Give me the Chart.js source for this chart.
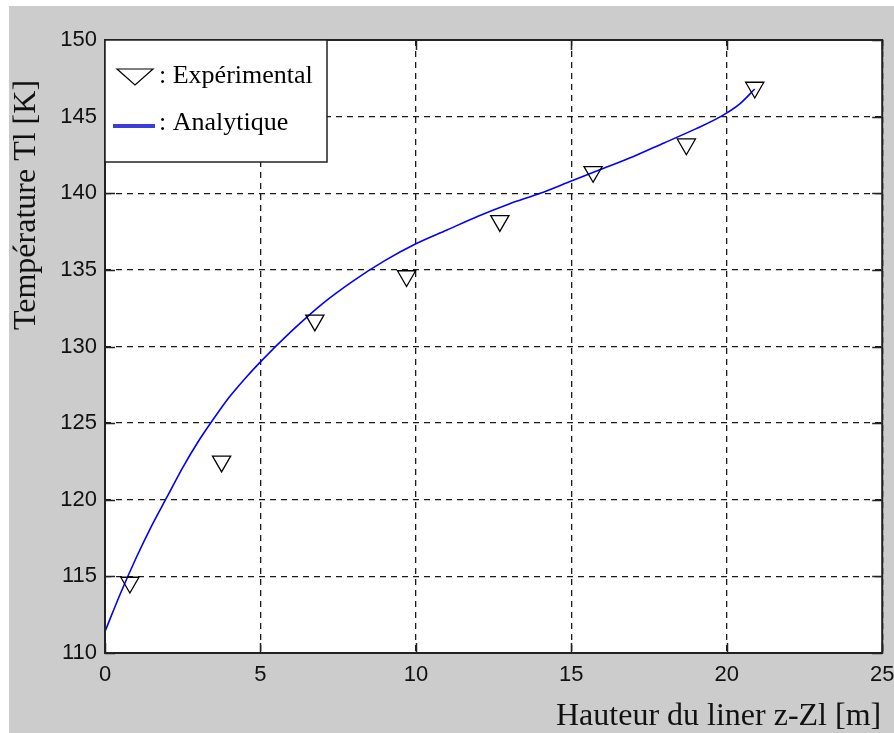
<!DOCTYPE html>
<html>
<head>
<meta charset="utf-8">
<script src="https://cdn.jsdelivr.net/npm/chart.js@4/dist/chart.umd.min.js"></script>
<style>
  html, body { margin: 0; padding: 0; background: #ffffff; }
  #wrap { width: 894px; height: 733px; }
</style>
</head>
<body>
<div id="wrap"><canvas id="c" width="894" height="733"></canvas></div>
<script>
// Measured liner temperature (triangles)
const expHeight = [0.8, 3.75, 6.75, 9.7, 12.7, 15.7, 18.7, 20.9];
const expTemp   = [114.6, 122.5, 131.7, 134.6, 138.2, 141.4, 143.2, 146.9];

// Analytical temperature profile (blue curve)
const anaHeight = [0, 0.5, 1, 1.5, 2, 2.5, 3, 3.5, 4, 4.5, 5, 6, 7, 8, 9, 10, 11, 12, 13, 14, 15, 16, 17, 18, 19, 19.8, 20.4, 20.9];
const anaTemp   = [111.4, 113.9, 116.2, 118.3, 120.2, 122.1, 123.8, 125.3, 126.7, 127.9, 129.0, 131.0, 132.8, 134.3, 135.6, 136.7, 137.6, 138.5, 139.3, 140.0, 140.8, 141.6, 142.4, 143.3, 144.2, 145.0, 145.8, 146.8];

// Axis ticks and labels
const xTickValues = [0, 5, 10, 15, 20, 25];
const yTickValues = [110, 115, 120, 125, 130, 135, 140, 145, 150];
const xTitle = 'Hauteur du liner z-Zl [m]';
const yTitle = 'Température Tl [K]';
const seriesLabels = ['Expérimental', 'Analytique'];

const SERIF = '"Liberation Serif", "Times New Roman", serif';
const SANS = '"Liberation Sans", Arial, sans-serif';

// Figure background, white axes face, box, inward ticks, titles and legend
const figurePlugin = {
  id: 'figure',
  beforeDraw(chart) {
    const { ctx, chartArea: a } = chart;
    ctx.save();
    ctx.fillStyle = '#ffffff';
    ctx.fillRect(0, 0, chart.width, chart.height);
    ctx.fillStyle = '#cccccc';
    ctx.fillRect(9, 6, chart.width - 9, chart.height - 6);
    ctx.fillStyle = '#ffffff';
    ctx.fillRect(a.left, a.top, a.right - a.left, a.bottom - a.top);
    ctx.restore();
  },
  afterDraw(chart) {
    const { ctx, chartArea: a, scales } = chart;
    const xs = scales.x, ys = scales.y;
    const tick = 10;
    ctx.save();
    ctx.strokeStyle = '#222222';
    ctx.lineWidth = 1.5;
    ctx.setLineDash([]);
    ctx.beginPath();
    xTickValues.forEach(v => {
      const px = Math.round(xs.getPixelForValue(v)) + 0.5;
      ctx.moveTo(px, a.bottom); ctx.lineTo(px, a.bottom - tick);
      ctx.moveTo(px, a.top); ctx.lineTo(px, a.top + tick);
    });
    yTickValues.forEach(v => {
      const py = Math.round(ys.getPixelForValue(v)) + 0.5;
      ctx.moveTo(a.left, py); ctx.lineTo(a.left + tick, py);
      ctx.moveTo(a.right, py); ctx.lineTo(a.right - tick, py);
    });
    ctx.stroke();
    ctx.lineWidth = 2;
    ctx.strokeRect(a.left, a.top, a.right - a.left, a.bottom - a.top);

    // Legend box
    const lx = a.left, ly = a.top, lw = 222, lh = 122;
    ctx.fillStyle = '#ffffff';
    ctx.fillRect(lx, ly, lw, lh);
    ctx.lineWidth = 1.5;
    ctx.strokeStyle = '#222222';
    ctx.strokeRect(lx, ly, lw, lh);
    // marker sample
    ctx.beginPath();
    ctx.moveTo(lx + 12, ly + 29);
    ctx.lineTo(lx + 48, ly + 29);
    ctx.lineTo(lx + 30, ly + 45);
    ctx.closePath();
    ctx.lineWidth = 1.2;
    ctx.strokeStyle = '#000000';
    ctx.stroke();
    // line sample
    ctx.beginPath();
    ctx.moveTo(lx + 8, ly + 86);
    ctx.lineTo(lx + 50, ly + 86);
    ctx.strokeStyle = '#3c3cdc';
    ctx.lineWidth = 4;
    ctx.stroke();
    ctx.fillStyle = '#000000';
    ctx.font = '26px ' + SERIF;
    ctx.textAlign = 'left';
    ctx.textBaseline = 'alphabetic';
    ctx.fillText(': ' + chart.data.datasets[0].label, lx + 54, ly + 43);
    ctx.fillText(': ' + chart.data.datasets[1].label, lx + 54, ly + 90);

    // Axis titles
    ctx.fillStyle = '#111111';
    ctx.font = '32px ' + SERIF;
    ctx.textAlign = 'right';
    ctx.fillText(xTitle, a.right - 1, 725);
    ctx.save();
    ctx.translate(35, 205);
    ctx.rotate(-Math.PI / 2);
    ctx.textAlign = 'center';
    ctx.fillText(yTitle, 0, 0);
    ctx.restore();
    ctx.restore();
  }
};

new Chart(document.getElementById('c'), {
  type: 'scatter',
  data: {
    datasets: [
      {
        label: seriesLabels[0],
        data: expHeight.map((x, i) => ({ x, y: expTemp[i] })),
        showLine: false,
        pointStyle: 'triangle',
        rotation: 180,
        pointRadius: 10.5,
        pointHoverRadius: 10.5,
        borderColor: '#000000',
        backgroundColor: 'rgba(0,0,0,0)',
        borderWidth: 1.3,
        order: 0
      },
      {
        label: seriesLabels[1],
        data: anaHeight.map((x, i) => ({ x, y: anaTemp[i] })),
        showLine: true,
        pointRadius: 0,
        borderColor: '#0000ff',
        borderWidth: 1.6,
        cubicInterpolationMode: 'monotone',
        fill: false,
        order: 1
      }
    ]
  },
  options: {
    responsive: false,
    animation: false,
    events: [],
    layout: { padding: { top: 40, right: 9, left: 0, bottom: 0 } },
    plugins: { legend: { display: false }, tooltip: { enabled: false } },
    scales: {
      x: {
        type: 'linear',
        min: 0, max: 25,
        afterBuildTicks: s => { s.ticks = xTickValues.map(v => ({ value: v })); },
        afterFit: s => { s.height = 80; s.paddingLeft = 0; s.paddingRight = 0; },
        grid: { color: '#1a1a1a', lineWidth: 1.3, drawTicks: false },
        border: { display: false, dash: [6, 5] },
        ticks: { color: '#111111', font: { family: SANS, size: 22 }, padding: 9, maxRotation: 0 }
      },
      y: {
        type: 'linear',
        min: 110, max: 150,
        afterBuildTicks: s => { s.ticks = yTickValues.map(v => ({ value: v })); },
        afterFit: s => { s.width = 105; s.paddingTop = 0; s.paddingBottom = 0; },
        grid: { color: '#1a1a1a', lineWidth: 1.3, drawTicks: false },
        border: { display: false, dash: [6, 5] },
        ticks: { color: '#111111', font: { family: SANS, size: 22 }, padding: 8 }
      }
    }
  },
  plugins: [figurePlugin]
});
</script>
</body>
</html>
